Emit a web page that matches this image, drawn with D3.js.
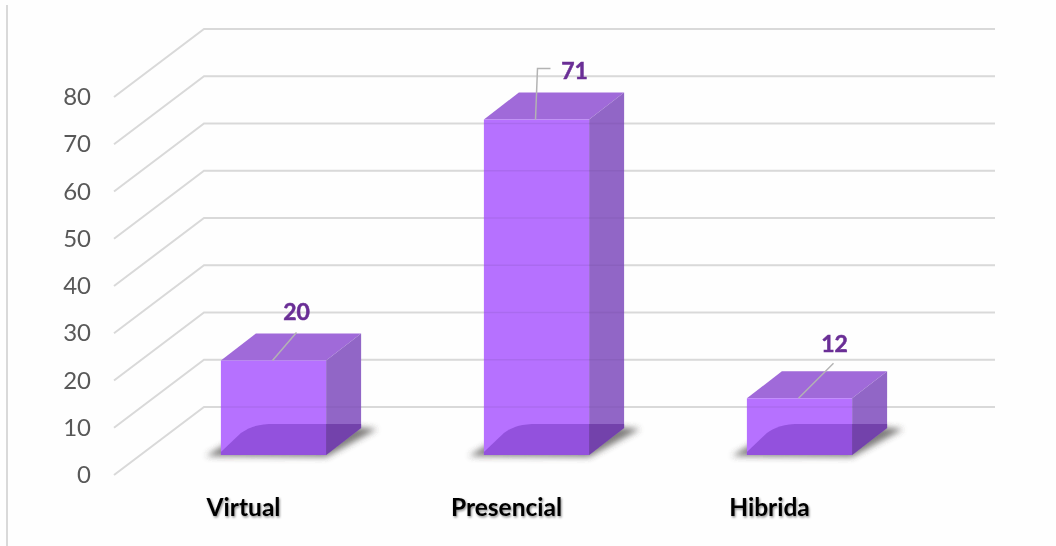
<!DOCTYPE html>
<html>
<head>
<meta charset="utf-8">
<script src="https://cdn.jsdelivr.net/npm/d3@7"></script>
<style>
  html, body { margin: 0; padding: 0; background: #fefefe; }
  svg { display: block; }
  text { font-family: Lato, "Open Sans", sans-serif; }
</style>
</head>
<body>
<div id="container"></div>
<script>
'use strict'
const categories = ['Virtual', 'Presencial', 'Hibrida'];
const values = [20, 71, 12];
const yTicks = [0, 10, 20, 30, 40, 50, 60, 70, 80];

const w = 1056;
const h = 546;

const svg = d3.select('#container').append('svg').attr('width', w).attr('height', h);
const defs = svg.append('defs');
defs.append('filter').attr('id', 'soft').append('feGaussianBlur').attr('stdDeviation', 0.55);
defs.append('filter').attr('id', 'shadowBlur')
    .attr('x', '-20%').attr('y', '-30%').attr('width', '140%').attr('height', '160%')
    .append('feGaussianBlur').attr('stdDeviation', 3);
const txtShadow = defs.append('filter').attr('id', 'txtShadow');
txtShadow.append('feDropShadow')
    .attr('dx', 1).attr('dy', 1.5).attr('stdDeviation', 1.2)
    .attr('flood-color', '#000').attr('flood-opacity', 0.45);

//Scales
const yScale = d3.scaleLinear().domain([0, 80]).range([475, 97]);
const xScale = d3.scaleBand().domain(categories).range([142, 931])
                 .paddingInner(0.6).paddingOuter(0.3);

// 3d offsets
const wallDx = 90, wallDy = -68;     // front of the floor to the back wall
const barInX = 0, barInY = -20;      // front of bar relative to front of floor
const depthX = 35, depthY = -27;     // bar depth
const gridEnd = 995;

const root = svg.append('g').attr('filter', 'url(#soft)');

// left border of the picture
root.append('line').attr('x1', 7).attr('x2', 7).attr('y1', 5).attr('y2', h)
    .attr('stroke', '#d9d9d9').attr('stroke-width', 2);

function gridPath(d) {
    const y = yScale(d);
    return 'M114,' + y + 'L' + (114 + wallDx) + ',' + (y + wallDy) + 'H' + gridEnd;
}

//Grid
root.append('g').selectAll('path').data(yTicks).enter().append('path')
    .attr('d', gridPath)
    .attr('fill', 'none').attr('stroke', '#d9d9d9').attr('stroke-width', 2);

//Bars
const bars = root.append('g').selectAll('g').data(categories).enter().append('g');

function x0(c) { return xScale(c) + barInX; }
function x1(c) { return x0(c) + xScale.bandwidth(); }
const yBase = yScale(0) + barInY;
function yTop(i) { return yScale(values[i]) + barInY; }

// floor shadow
bars.append('path')
    .attr('d', c => 'M' + (x0(c) - 15) + ',' + (yBase + 1) + 'L' + x1(c) + ',' + (yBase + 2)
        + 'L' + (x1(c) + depthX + 16) + ',' + (yBase + depthY + 1)
        + 'L' + (x1(c) + depthX - 5) + ',' + (yBase + depthY - 1)
        + 'L' + (x0(c) + 5) + ',' + (yBase - 11) + 'Z')
    .attr('fill', '#4a4745').attr('opacity', 0.7).attr('filter', 'url(#shadowBlur)');

// top
bars.append('path')
    .attr('d', (c, i) => 'M' + x0(c) + ',' + yTop(i)
        + 'L' + (x0(c) + depthX) + ',' + (yTop(i) + depthY)
        + 'H' + (x1(c) + depthX)
        + 'L' + x1(c) + ',' + yTop(i) + 'Z')
    .attr('fill', '#a06ad9');
// side
bars.append('path')
    .attr('d', (c, i) => 'M' + x1(c) + ',' + yTop(i)
        + 'L' + (x1(c) + depthX) + ',' + (yTop(i) + depthY)
        + 'V' + (yBase + depthY)
        + 'L' + x1(c) + ',' + yBase + 'Z')
    .attr('fill', '#9166c6');
// front
bars.append('rect')
    .attr('x', c => x0(c)).attr('y', (c, i) => yTop(i))
    .attr('width', xScale.bandwidth()).attr('height', (c, i) => yBase - yTop(i))
    .attr('fill', '#b671ff');
// floor seen through the front
bars.append('path')
    .attr('d', c => 'M' + x0(c) + ',' + (yBase - 3)
        + 'L' + (x0(c) + 20) + ',' + (yBase + depthY + 5)
        + 'C' + (x0(c) + 26) + ',' + (yBase + depthY + 1) + ' ' + (x0(c) + 32) + ',' + (yBase + depthY - 3) + ' ' + (x0(c) + 48) + ',' + (yBase + depthY - 4)
        + 'H' + x1(c) + 'V' + yBase + 'H' + x0(c) + 'Z')
    .attr('fill', '#9351dd');
// floor seen through the side
bars.append('path')
    .attr('d', c => 'M' + x1(c) + ',' + yBase
        + 'L' + (x1(c) + depthX) + ',' + (yBase + depthY)
        + 'V' + (yBase + depthY - 4) + 'H' + x1(c) + 'Z')
    .attr('fill', '#7343ab');

// grid showing through the bars
bars.append('g').each(function(c, i) {
    const g = d3.select(this);
    yTicks.forEach(d => {
        const y = yScale(d) + wallDy;
        if (y > yTop(i) && y < yBase) {
            g.append('line').attr('x1', x0(c)).attr('x2', x1(c) + depthX)
             .attr('y1', y).attr('y2', y)
             .attr('stroke', '#5a3a85').attr('stroke-width', 1.5).attr('opacity', 0.12);
        }
    });
});

//Leader lines
const leaderPaths = [
    (x, y) => 'M' + x + ',' + y + 'l24,-28',
    (x, y) => 'M' + x + ',' + y + 'l2,-51h13',
    (x, y) => 'M' + x + ',' + y + 'l35,-35'
];
bars.append('path')
    .attr('d', (c, i) => leaderPaths[i](x0(c) + xScale.bandwidth() / 2 - 1, yTop(i)))
    .attr('fill', 'none').attr('stroke', '#b3b3b3').attr('stroke-width', 1.5);

//Value labels
const labelDx = [23, 38, 35];
const labelDy = [-41, -41, -46];
bars.append('text')
    .text((c, i) => values[i])
    .attr('x', (c, i) => x0(c) + xScale.bandwidth() / 2 + labelDx[i])
    .attr('y', (c, i) => yTop(i) + labelDy[i])
    .attr('text-anchor', 'middle')
    .attr('fill', '#6a2f96').attr('stroke', '#6a2f96').attr('stroke-width', 0.5)
    .style('font-size', '23px').style('font-weight', 700);

//Axes
const yAxis = d3.axisLeft(yScale).tickValues(yTicks).tickSize(0).tickPadding(0);
const yG = root.append('g').attr('transform', 'translate(91,0)').call(yAxis);
yG.select('.domain').remove();
yG.selectAll('text').attr('fill', '#595959')
  .style('font-family', 'Lato, sans-serif').style('font-size', '24px');

const xAxis = d3.axisBottom(xScale).tickSize(0).tickPadding(0);
const xG = root.append('g').attr('transform', 'translate(-30,499)').call(xAxis);
xG.select('.domain').remove();
xG.selectAll('text').attr('fill', '#000').attr('filter', 'url(#txtShadow)')
  .style('font-family', 'Lato, sans-serif').style('font-size', '24.5px').style('font-weight', 700);
</script>
</body>
</html>
